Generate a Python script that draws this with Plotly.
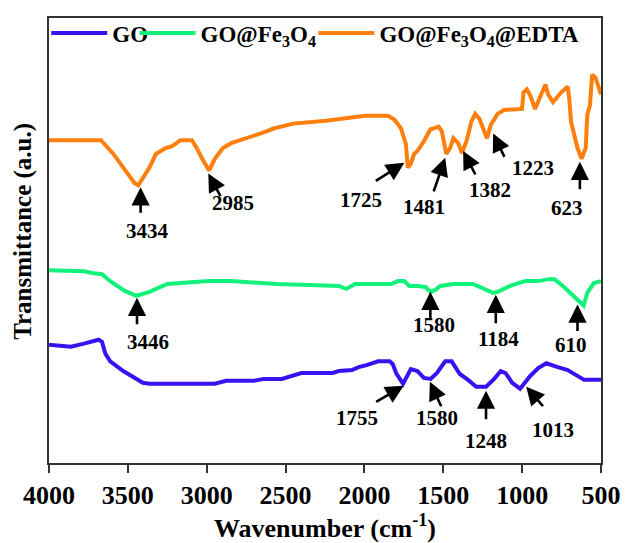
import plotly.graph_objects as go

# ---------------- data ----------------
series_names = ["GO", "GO@Fe<sub>3</sub>O<sub>4</sub>", "GO@Fe<sub>3</sub>O<sub>4</sub>@EDTA"]

go_wn = [4000, 3861, 3778, 3685, 3664, 3643, 3612, 3529, 3405, 3363, 2949, 2877, 2701, 2638, 2524,
         2431, 2400, 2203, 2162, 2079, 2037, 1986, 1913, 1840, 1820, 1799, 1778, 1755, 1706, 1664,
         1623, 1580, 1540, 1488, 1447, 1395, 1343, 1291, 1248, 1229, 1177, 1136, 1105, 1063, 1013,
         949, 898, 846, 774, 711, 607, 500]
go_t = [121, 119, 122, 126, 124, 112, 104, 94, 82, 81, 81, 84, 84, 86, 86,
        90, 92, 92, 94, 95, 98, 100, 104, 104, 101, 92, 86, 81, 96, 94,
        87, 86, 92, 104, 104, 91, 85, 78, 78, 78, 86, 94, 92, 82, 76,
        89, 97, 102, 98, 95, 85, 85]

gofe_wn = [4000, 3778, 3716, 3664, 3612, 3519, 3446, 3363, 3250, 3094, 2990, 2845, 2555, 2348, 2162,
           2116, 2058, 1830, 1789, 1747, 1716, 1664, 1613, 1580, 1550, 1519, 1436, 1312, 1260, 1209,
           1184, 1156, 1063, 980, 898, 836, 794, 742, 680, 649, 610, 587, 545, 500]
gofe_t = [197, 196, 194, 193, 186, 176, 171, 175, 183, 185, 186, 186, 183, 182, 181,
          178, 183, 183, 186, 186, 181, 181, 180, 175, 177, 181, 183, 183, 179, 175,
          174, 175, 182, 186, 186, 188, 188, 181, 171, 167, 161, 174, 184, 186]

edta_wn = [4000, 3670, 3592, 3529, 3457, 3434, 3363, 3322, 3260, 3219, 3167, 3094, 3063, 3032, 2985,
           2949, 2897, 2845, 2763, 2638, 2576, 2452, 2244, 2120, 1996, 1851, 1809, 1768, 1737, 1725,
           1706, 1685, 1664, 1623, 1582, 1529, 1509, 1481, 1457, 1436, 1405, 1382, 1353, 1322, 1298,
           1271, 1223, 1198, 1156, 1115, 1043, 1001, 991, 970, 949, 918, 887, 852, 836, 804,
           752, 711, 701, 690, 649, 623, 597, 587, 570, 556, 535, 515, 500]
edta_t = [330, 330, 316, 302, 286, 284, 302, 316, 322, 324, 330, 330, 322, 312, 299,
          311, 322, 327, 331, 338, 342, 347, 350, 353, 355, 355, 351, 342, 326, 302,
          306, 316, 319, 329, 341, 344, 339, 316, 322, 332, 327, 317, 329, 349, 357,
          352, 332, 346, 357, 361, 361, 362, 379, 382, 376, 362, 374, 387, 377, 369,
          379, 385, 372, 349, 322, 311, 322, 356, 366, 397, 394, 384, 377]

# peak labels: text, arrow tip (wavenumber, transmittance), label centre (wavenumber, transmittance)
peak_text = ["3434", "2985", "1725", "1481", "1382", "1223", "623",
             "3446", "1580", "1184", "610",
             "1755", "1580", "1248", "1013"]
tip_wn = [3419, 2990, 1747, 1488, 1374, 1184, 634,
          3442, 1582, 1167, 649,
          1751, 1585, 1229, 974]
tip_t = [282, 296, 307, 312, 319, 337, 308,
         169, 175, 172, 162,
         79, 83, 74, 78]
label_wn = [3374, 2833, 2022, 1621, 1204, 929, 716,
            3374, 1562, 1151, 688,
            2048, 1540, 1229, 804]
label_t = [237, 266, 269, 262, 279, 302, 261,
           124, 141, 127, 121,
           46, 46, 22, 34]

x_ticks = [4000, 3500, 3000, 2500, 2000, 1500, 1000, 500]

# ---------------- styling ----------------
colors = ["#3A12F2", "#12F27A", "#FF7F0E"]
# arrow tail offsets from the tip, in pixels
tail_dx = [0, 13, -30, -12, 13, 12, 0, 0, 0, 0, 0, -29, 12, 0, 18]
tail_dy = [27, 24, 19, 35, 25, 25, 29, 28, 28, 30, 28, 17, 26, 30, 21]
FONT = "Liberation Serif, Times New Roman, serif"

fig = go.Figure()
for name, xs, ys, c, lg in zip(series_names, [go_wn, gofe_wn, edta_wn], [go_t, gofe_t, edta_t],
                               colors, ["legend", "legend2", "legend3"]):
    fig.add_trace(go.Scatter(x=xs, y=ys, mode="lines", name=name,
                             line=dict(color=c, width=4), legend=lg))

anns = []
for i, txt in enumerate(peak_text):
    anns.append(dict(x=tip_wn[i], y=tip_t[i], xref="x", yref="y", text="",
                     showarrow=True, ax=tail_dx[i], ay=tail_dy[i],
                     arrowhead=2, arrowsize=1.4, arrowwidth=2.6, arrowcolor="black",
                     standoff=0))
    anns.append(dict(x=label_wn[i], y=label_t[i], xref="x", yref="y", text=txt,
                     showarrow=False, xanchor="center", yanchor="middle",
                     font=dict(family=FONT, size=21, color="black", weight="bold")))
anns.append(dict(x=-0.0485, y=0.52, xref="paper", yref="paper",
                 text="Transmittance (a.u.)", textangle=-90, showarrow=False,
                 xanchor="center", yanchor="middle",
                 font=dict(family=FONT, size=25, color="black", weight="bold")))

legend_style = dict(orientation="h", yanchor="middle", xanchor="left", y=0.966,
                    bgcolor="rgba(0,0,0,0)", borderwidth=0, itemwidth=56,
                    font=dict(family=FONT, size=23, color="black", weight="bold"))

fig.update_layout(
    width=633, height=543,
    margin=dict(l=49, r=21, t=14, b=74),
    paper_bgcolor="white", plot_bgcolor="white",
    showlegend=True,
    legend=dict(legend_style, x=-0.005),
    legend2=dict(legend_style, x=0.155),
    legend3=dict(legend_style, x=0.479),
    annotations=anns,
    xaxis=dict(range=[4000, 500], tickvals=x_ticks, ticktext=[str(v) for v in x_ticks],
               ticks="outside", ticklen=8, tickwidth=1.5, tickcolor="#333",
               showline=True, linecolor="#333", linewidth=1.5, mirror=True,
               showgrid=False, zeroline=False,
               tickfont=dict(family=FONT, size=26, color="black", weight="bold"),
               title=dict(text="Wavenumber (cm<sup>-1</sup>)", standoff=3,
                          font=dict(family=FONT, size=26, color="black", weight="bold"))),
    yaxis=dict(range=[0, 455], showticklabels=False, ticks="", tickmode="array", tickvals=[],
               showline=True, linecolor="#333", linewidth=1.5, mirror=True,
               showgrid=False, zeroline=False),
)

fig.write_html("out.html")
